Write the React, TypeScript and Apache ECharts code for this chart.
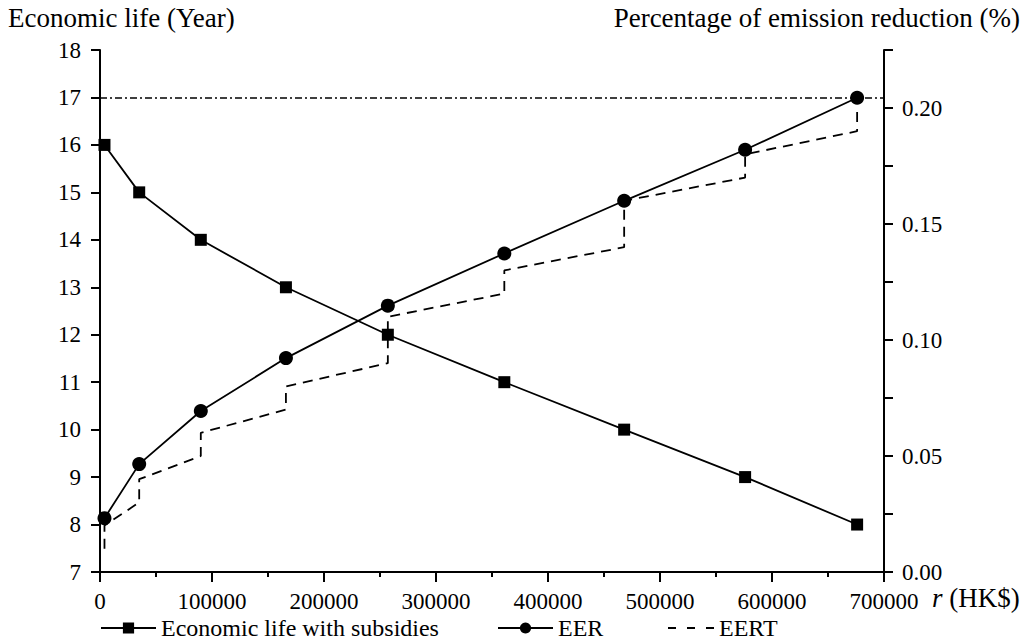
import React, { useEffect, useRef } from "react";
import * as echarts from "echarts";

const rValues = [4000, 35000, 90000, 166000, 257000, 361000, 468000, 576000, 676000];
const economicLife = [16, 15, 14, 13, 12, 11, 10, 9, 8];
const eer = [0.0232, 0.0465, 0.0694, 0.0922, 0.1148, 0.1373, 0.16, 0.182, 0.2044];
// EERT step pattern: each r has a lower value (arriving) and upper value (jump)
const eertLow = [0.01, 0.03, 0.05, 0.07, 0.09, 0.12, 0.14, 0.17, 0.19];
const eertHigh = [0.02, 0.04, 0.06, 0.08, 0.11, 0.13, 0.16, 0.18, 0.2];
const thresholdYear = 17;

const FONT = "Times New Roman, Liberation Serif, Tinos, serif";

export default function App() {
  const ref = useRef<HTMLDivElement>(null);
  useEffect(() => {
    if (!ref.current) return;
    const chart = echarts.init(ref.current, undefined, { renderer: "svg" });
    const eertData: number[][] = [];
    rValues.forEach((r, i) => {
      eertData.push([r, eertLow[i]]);
      eertData.push([r, eertHigh[i]]);
    });
    const axisLine = { show: true, lineStyle: { color: "#000", width: 2 } };
    const axisTick = { show: true, length: 9, lineStyle: { color: "#000", width: 2 } };
    const label = { color: "#000", fontFamily: FONT, fontSize: 23 };
    const legendBase = {
      orient: "horizontal",
      top: 611,
      itemHeight: 14,
      textStyle: { color: "#000", fontFamily: FONT, fontSize: 24, lineHeight: 19 },
      itemGap: 0,
    };
    chart.setOption({
      animation: false,
      backgroundColor: "#fff",
      textStyle: { fontFamily: FONT },
      grid: { left: 100, right: 144, top: 50, bottom: 72 },
      xAxis: {
        type: "value",
        min: 0,
        max: 700000,
        interval: 100000,
        axisLine,
        axisTick: { ...axisTick, length: 10 },
        minorTick: { show: true, splitNumber: 2, length: 5, lineStyle: { color: "#000", width: 2 } },
        splitLine: { show: false },
        minorSplitLine: { show: false },
        axisLabel: { ...label, lineHeight: 18, margin: 20, formatter: (v: number) => String(v) },
      },
      yAxis: [
        {
          type: "value",
          min: 7,
          max: 18,
          interval: 1,
          axisLine,
          axisTick,
          splitLine: { show: false },
          axisLabel: { ...label, margin: 19 },
        },
        {
          type: "value",
          position: "right",
          min: 0,
          max: 0.225,
          interval: 0.025,
          axisLine,
          axisTick,
          splitLine: { show: false },
          axisLabel: {
            ...label,
            margin: 18,
            formatter: (v: number) => {
              const k = Math.round(v / 0.025);
              return k % 2 === 0 ? v.toFixed(2) : "";
            },
          },
        },
      ],
      legend: [
        { ...legendBase, left: 95, itemWidth: 55, data: ["Economic life with subsidies"] },
        { ...legendBase, left: 492, itemWidth: 55, data: ["EER"] },
        {
          ...legendBase,
          left: 662,
          itemWidth: 46,
          data: ["EERT"],
          itemStyle: { opacity: 0 },
          lineStyle: { type: [8, 11], width: 2, color: "#000" },
        },
      ],
      series: [
        {
          name: "Economic life with subsidies",
          type: "line",
          yAxisIndex: 0,
          data: rValues.map((r, i) => [r, economicLife[i]]),
          symbol: "rect",
          symbolSize: 12,
          itemStyle: { color: "#000" },
          lineStyle: { color: "#000", width: 1.8 },
          markLine: {
            silent: true,
            symbol: "none",
            label: { show: false },
            lineStyle: { color: "#000", width: 1.6, type: [7, 3, 2, 3] },
            data: [{ yAxis: thresholdYear }],
          },
        },
        {
          name: "EER",
          type: "line",
          yAxisIndex: 1,
          data: rValues.map((r, i) => [r, eer[i]]),
          symbol: "circle",
          symbolSize: 14,
          itemStyle: { color: "#000" },
          lineStyle: { color: "#000", width: 1.8 },
          z: 3,
        },
        {
          name: "EERT",
          type: "line",
          yAxisIndex: 1,
          data: eertData,
          symbol: "none",
          itemStyle: { color: "#000" },
          lineStyle: { color: "#000", width: 1.8, type: [10, 7] },
          z: 2,
        },
      ],
      graphic: [
        {
          type: "text",
          left: 8,
          top: 4,
          style: { text: "Economic life (Year)", fontFamily: FONT, fontSize: 27, fill: "#000" },
        },
        {
          type: "text",
          right: 8,
          top: 4,
          style: { text: "Percentage of emission reduction (%)", fontFamily: FONT, fontSize: 27, fill: "#000" },
        },
        {
          type: "text",
          left: 932,
          top: 584,
          style: {
            text: "{i|r} (HK$)",
            fontFamily: FONT,
            fontSize: 27,
            fill: "#000",
            rich: {
              i: { fontStyle: "italic", fontFamily: FONT, fontSize: 27, fill: "#000" },
            },
          },
        },
      ],
    });
    return () => chart.dispose();
  }, []);
  return (
    <div
      ref={ref}
      style={{ position: "fixed", left: 0, top: 0, width: 1028, height: 644 }}
    />
  );
}
